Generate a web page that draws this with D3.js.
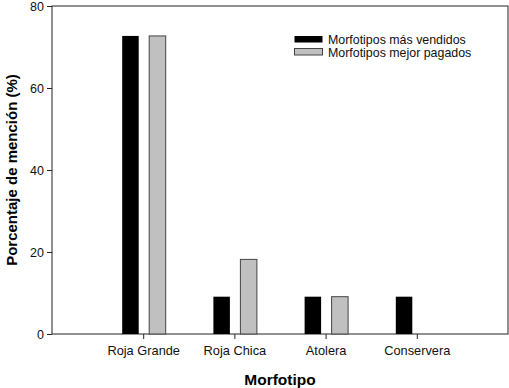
<!DOCTYPE html>
<html><head><meta charset="utf-8">
<script src="https://cdn.jsdelivr.net/npm/d3@7"></script>
<style>body{margin:0;background:#fff}svg{display:block}text{font-family:"Liberation Sans",Arial,sans-serif}</style>
</head><body>
<script>
const categories = ["Roja Grande", "Roja Chica", "Atolera", "Conservera"];
const masVendidos = [72.7, 9.1, 9.1, 9.1];
const mejorPagados = [72.7, 18.2, 9.1, 0];
const seriesNames = ["Morfotipos más vendidos", "Morfotipos mejor pagados"];
const yTicks = [0, 20, 40, 60, 80];

const W = 509, H = 388;
const L = 52, R = 508, T = 6, B = 334;
const svg = d3.select("body").append("svg").attr("width", W).attr("height", H);

const x = d3.scalePoint().domain(categories).range([L, R]).padding(1);
const y = d3.scaleLinear().domain([0, 80]).range([B, T]);

svg.append("rect").attr("x", L).attr("y", T).attr("width", R - L).attr("height", B - T)
  .attr("fill", "none").attr("stroke", "#222").attr("stroke-width", 1);

const bw = 16.5;
const data = categories.map((c, i) => ({c, a: masVendidos[i], b: mejorPagados[i]}));
svg.selectAll(".ba").data(data).enter().append("rect")
  .attr("x", d => x(d.c) - 21).attr("width", bw)
  .attr("y", d => y(d.a)).attr("height", d => y(0) - y(d.a))
  .attr("fill", "#000");
svg.selectAll(".bb").data(data.filter(d => d.b > 0)).enter().append("rect")
  .attr("x", d => x(d.c) + 6).attr("width", bw)
  .attr("y", d => y(d.b)).attr("height", d => y(0) - y(d.b))
  .attr("fill", "#c0c0c0").attr("stroke", "#444").attr("stroke-width", 1);

const yAxis = svg.append("g").attr("transform", `translate(${L},0)`)
  .call(d3.axisLeft(y).tickValues(yTicks).tickSize(5).tickPadding(3));
yAxis.select(".domain").remove();
yAxis.selectAll("line").attr("stroke", "#222");
yAxis.selectAll("text").attr("font-size", 12.5).attr("fill", "#111");

const xAxis = svg.append("g").attr("transform", `translate(0,${B})`)
  .call(d3.axisBottom(x).tickSize(5).tickPadding(7));
xAxis.select(".domain").remove();
xAxis.selectAll("line").attr("stroke", "#222");
xAxis.selectAll("text").attr("font-size", 12.8).attr("fill", "#111");

svg.append("text").attr("x", (L + R) / 2).attr("y", 385).attr("text-anchor", "middle")
  .attr("font-size", 15.5).attr("font-weight", "bold").text("Morfotipo");
svg.append("text").attr("transform", `translate(17,${(T + B) / 2}) rotate(-90)`)
  .attr("text-anchor", "middle").attr("font-size", 15).attr("font-weight", "bold")
  .text("Porcentaje de mención (%)");

const lg = svg.append("g");
const lcol = ["#000", "#c0c0c0"];
seriesNames.forEach((s, i) => {
  lg.append("rect").attr("x", 294.5).attr("y", 36 + i * 12.5).attr("width", 28).attr("height", 6.5)
    .attr("fill", lcol[i]).attr("stroke", i ? "#444" : "none");
  lg.append("text").attr("x", 328).attr("y", 44 + i * 12.5).attr("font-size", 12.4).attr("fill", "#111").text(s);
});
</script>
</body></html>
